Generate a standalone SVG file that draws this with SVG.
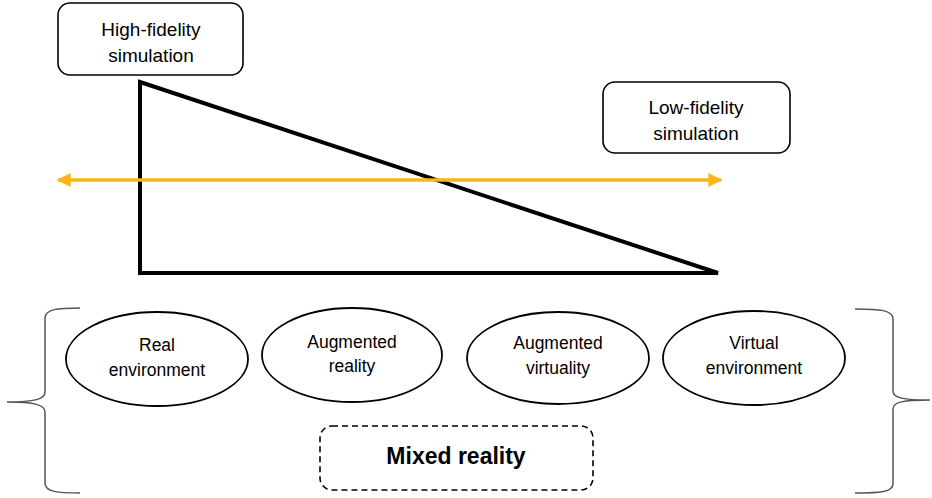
<svg xmlns="http://www.w3.org/2000/svg" width="932" height="498" viewBox="0 0 932 498">
<defs>
<style>
.box{fill:#fff;stroke:#000;stroke-width:1.6}
.ell{fill:#fff;stroke:#000;stroke-width:1.8}
.t{font-family:"Liberation Sans",Arial,sans-serif;font-size:17.5px;fill:#000;text-anchor:middle}
.tb{font-family:"Liberation Sans",Arial,sans-serif;font-size:19px;fill:#000;text-anchor:middle}
.brace{fill:none;stroke:#555;stroke-width:1.5}
</style>
<marker id="ah" viewBox="0 0 10 10" refX="9" refY="5" markerWidth="4.5" markerHeight="4" orient="auto-start-reverse" markerUnits="strokeWidth">
<path d="M0,0 L10,5 L0,10 z" fill="#FDB515"/>
</marker>
</defs>
<rect width="932" height="498" fill="#fff"/>
<g id="triangle">
<path d="M140,82 L718,273 L140,273 Z" fill="none" stroke="#000" stroke-width="4" stroke-linejoin="miter"/>
</g>
<g id="connectors">
<line x1="58" y1="180" x2="721" y2="180" stroke="#FDB515" stroke-width="3.5" marker-start="url(#ah)" marker-end="url(#ah)"/>
</g>
<g id="high-fidelity">
<rect class="box" x="58" y="3" width="185" height="72" rx="12"/>
<text class="tb" x="151" y="36">High-fidelity</text>
<text class="tb" x="151" y="62">simulation</text>
</g>
<g id="low-fidelity">
<rect class="box" x="603" y="82" width="187" height="71" rx="12"/>
<text class="tb" x="696" y="114">Low-fidelity</text>
<text class="tb" x="696" y="140">simulation</text>
</g>
<g id="real-environment">
<ellipse class="ell" cx="157" cy="359" rx="91" ry="47"/>
<text class="t" x="157" y="351">Real</text>
<text class="t" x="157" y="376">environment</text>
</g>
<g id="augmented-reality">
<ellipse class="ell" cx="352" cy="355" rx="90" ry="47"/>
<text class="t" x="352" y="348">Augmented</text>
<text class="t" x="352" y="372">reality</text>
</g>
<g id="augmented-virtuality">
<ellipse class="ell" cx="558" cy="358" rx="91" ry="46"/>
<text class="t" x="558" y="349">Augmented</text>
<text class="t" x="558" y="374">virtuality</text>
</g>
<g id="virtual-environment">
<ellipse class="ell" cx="754" cy="358" rx="91" ry="47"/>
<text class="t" x="754" y="349">Virtual</text>
<text class="t" x="754" y="374">environment</text>
</g>
<g id="mixed-reality">
<rect x="320" y="426" width="273" height="64" rx="12" fill="none" stroke="#000" stroke-width="1.6" stroke-dasharray="6,4"/>
<text x="456" y="464" font-family="Liberation Sans,Arial,sans-serif" font-size="23" font-weight="bold" text-anchor="middle">Mixed reality</text>
</g>
<g id="left-brace">
<path class="brace" d="M80,308 C58,308 45,309 45,318 L45,392 C45,399 35,402 7,402 C35,402 45,405 45,412 L45,483 C45,492 58,493 80,493"/>
</g>
<g id="right-brace">
<path class="brace" d="M855,309 C880,309 893,310 893,319 L893,391 C893,398 903,400 930,400 C903,400 893,402 893,409 L893,484 C893,492 880,493 855,493"/>
</g>
</svg>
